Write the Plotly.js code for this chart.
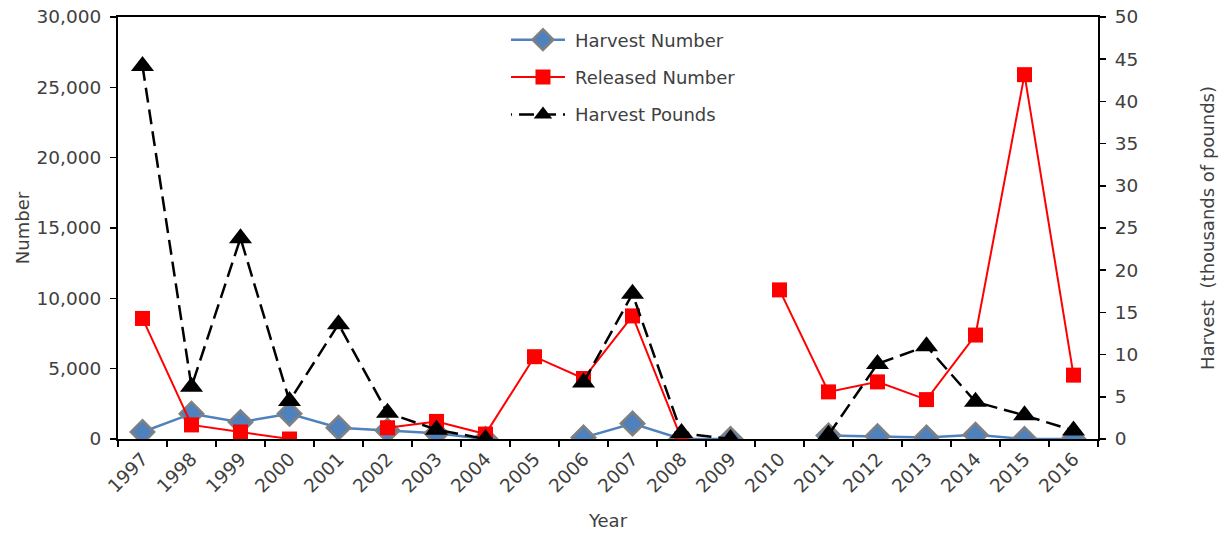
<!DOCTYPE html>
<html><head><meta charset="utf-8">
<script src="https://cdn.plot.ly/plotly-3.0.1.min.js"></script>
<style>html,body{margin:0;padding:0;background:#fff}#chart{width:1227px;height:535px}</style>
</head><body><div id="chart"></div>
<script>
const years = ['1997','1998','1999','2000','2001','2002','2003','2004','2005','2006','2007','2008','2009','2010','2011','2012','2013','2014','2015','2016'];
const harvestNumber = [500,1800,1200,1800,800,600,400,0,null,100,1100,0,0,null,250,200,100,300,0,0];
const releasedNumber = [8570,1000,500,0,null,800,1250,350,5850,4300,8750,0,null,10600,3350,4060,2800,7390,25900,4540];
const harvestPounds = [44.2,6.2,23.8,4.5,13.6,3.1,1.1,0,null,6.7,17.2,0.7,0,null,0.5,8.9,11.0,4.4,2.8,1.0];

const font = {family: 'DejaVu Sans, Liberation Sans, Arial, sans-serif', size: 18, color: '#404040'};
const tickFont = {family: 'DejaVu Sans, Liberation Sans, Arial, sans-serif', size: 18.5, color: '#404040'};

const traces = [
  {x: years, y: harvestNumber, name: 'Harvest Number', type: 'scatter', mode: 'lines+markers',
   line: {color: '#4F81BD', width: 2.5}, connectgaps: false, legendgroup: 'a',
   marker: {symbol: 'diamond', size: 18, color: '#4F81BD', line: {color: '#808080', width: 2.5}}},
  {x: years, y: releasedNumber, name: 'Released Number', type: 'scatter', mode: 'lines+markers',
   line: {color: '#FF0000', width: 2}, connectgaps: false, legendgroup: 'b',
   marker: {symbol: 'square', size: 15, color: '#FF0000'}},
  {x: years, y: harvestPounds, name: 'Harvest Pounds', type: 'scatter', mode: 'lines+markers', yaxis: 'y2',
   line: {color: '#000000', width: 2.5, dash: '15px,7px'}, connectgaps: false, legendgroup: 'c',
   marker: {symbol: 'triangle-up', size: 20, color: '#000000'}}
];

const layout = {
  width: 1227, height: 535,
  margin: {l: 118, r: 129, t: 17, b: 96},
  paper_bgcolor: '#fff', plot_bgcolor: '#fff',
  font: font,
  showlegend: true,
  legend: {x: 0.401, y: 0.9895, xanchor: 'left', yanchor: 'top', bgcolor: 'rgba(0,0,0,0)',
           font: font, itemwidth: 54, tracegroupgap: 11},
  xaxis: {type: 'category', tickson: 'boundaries', ticks: 'outside', ticklen: 6, tickwidth: 1.5,
          tickcolor: '#000', showline: true, linecolor: '#000', linewidth: 2, mirror: true,
          showgrid: false, zeroline: false, tickangle: -45, range: [-0.5, 19.5], automargin: false,
          tickfont: tickFont, title: {text: 'Year', font: font, standoff: 19}},
  yaxis: {range: [0, 30000], dtick: 5000, tickformat: ',', ticks: 'outside', ticklen: 6, tickwidth: 1.5,
          tickcolor: '#000', showline: true, linecolor: '#000', linewidth: 2, showgrid: false,
          zeroline: false, automargin: false, tickfont: tickFont, ticklabelstandoff: 5,
          title: {text: 'Number', font: font, standoff: 2}},
  yaxis2: {overlaying: 'y', side: 'right', anchor: 'x', range: [0, 50], dtick: 5, ticks: 'outside', ticklen: 6,
           tickwidth: 1.5, tickcolor: '#000', showline: true, linecolor: '#000', linewidth: 2,
           showgrid: false, zeroline: false, automargin: false, tickfont: tickFont, ticklabelstandoff: 5,
           title: {text: 'Harvest  (thousands of pounds)', font: font, standoff: 64}},
  yaxis3: {overlaying: 'y', side: 'right', anchor: 'x', range: [0, 50], dtick: 5, ticks: 'inside', ticklen: 6,
           tickwidth: 1.5, tickcolor: '#000', showline: false, showgrid: false, zeroline: false,
           showticklabels: false, automargin: false}
};

Plotly.newPlot('chart', traces, layout, {displayModeBar: false, staticPlot: true}).then(function (gd) {
  gd.querySelectorAll('.legend .legendlines path').forEach(function (p) {
    p.setAttribute('d', 'M-14,0h68');
  });
});
</script>
</body></html>
